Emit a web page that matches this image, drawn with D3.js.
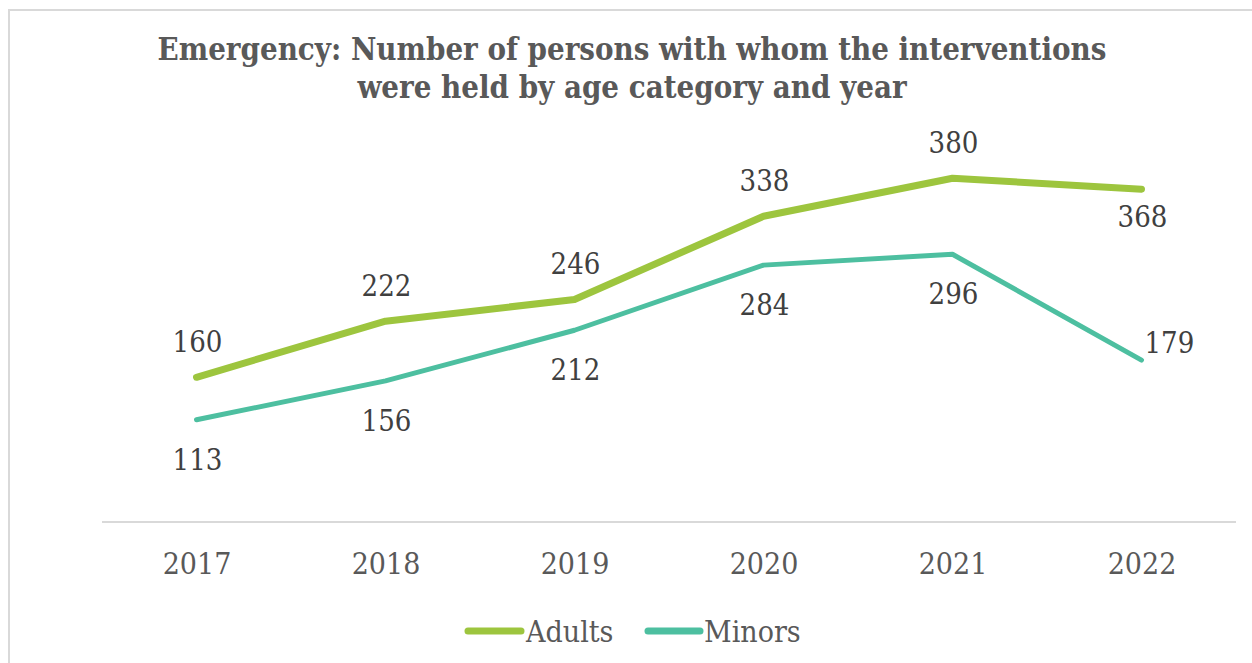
<!DOCTYPE html>
<html>
<head>
<meta charset="utf-8">
<script src="https://cdn.jsdelivr.net/npm/d3@7"></script>
<style>
  html, body { margin: 0; padding: 0; background: #ffffff; }
  svg { display: block; }
</style>
</head>
<body>
<svg id="chart" width="1252" height="663"></svg>
<script>
const titleLines = ["Emergency: Number of persons with whom the interventions",
                    "were held by age category and year"];
const years = ["2017", "2018", "2019", "2020", "2021", "2022"];
const adults = [160, 222, 246, 338, 380, 368];
const minors = [113, 156, 212, 284, 296, 179];
const seriesNames = ["Adults", "Minors"];
const seriesColors = ["#9dc53e", "#4dbfa0"];
// label placement per point: "above", "below", "right"
const adultsLabelPos = ["above", "above", "above", "above", "above", "below"];
const minorsLabelPos = ["below", "below", "below", "below", "below", "right"];

const FONT = "'DejaVu Serif Condensed', 'DejaVu Serif', serif";
const svg = d3.select("#chart");
const W = 1252, H = 663;

// chart area border
svg.append("path")
  .attr("d", `M9,${H + 5} L9,10 L${W + 5},10`)
  .attr("fill", "none").attr("stroke", "#d9d9d9").attr("stroke-width", 2);

// title
const title = svg.append("text")
  .attr("text-anchor", "middle")
  .attr("font-family", FONT).attr("font-weight", "bold")
  .attr("fill", "#595959").attr("font-size", 24);
title.selectAll("tspan").data(titleLines).join("tspan")
  .attr("x", 632).attr("y", (d, i) => 60 + i * 38).text(d => d);
// fit first line width to reference
const t0 = title.select("tspan").node().getComputedTextLength();
title.attr("font-size", 24 * 949 / t0);

const x = d3.scalePoint().domain(years).range([102, 1236]).padding(0.5);
const y = d3.scaleLinear().domain([0, 400]).range([522, 160.2]);

// x axis
const xAxis = svg.append("g").attr("transform", "translate(0,522)")
  .call(d3.axisBottom(x).tickSize(0).tickPadding(38));
xAxis.select(".domain").attr("stroke", "#d9d9d9").attr("stroke-width", 2)
  .attr("d", "M102,0H1236");
xAxis.selectAll("text").attr("font-family", FONT).attr("font-size", 30)
  .attr("fill", "#595959").attr("dy", 0).attr("y", 52);

const series = [
  { name: seriesNames[0], values: adults, color: seriesColors[0], width: 7, pos: adultsLabelPos, below: 38 },
  { name: seriesNames[1], values: minors, color: seriesColors[1], width: 5, pos: minorsLabelPos, below: 50 }
];

const line = d3.line().x((d, i) => x(years[i])).y(d => y(d));

series.forEach(s => {
  svg.append("path").datum(s.values)
    .attr("d", line).attr("fill", "none")
    .attr("stroke", s.color).attr("stroke-width", s.width)
    .attr("stroke-linecap", "round").attr("stroke-linejoin", "round");
});

series.forEach(s => {
  svg.append("g").selectAll("text").data(s.values).join("text")
    .attr("font-family", FONT).attr("font-size", 29).attr("fill", "#404040")
    .attr("text-anchor", (d, i) => s.pos[i] === "right" ? "start" : "middle")
    .attr("x", (d, i) => x(years[i]) + (s.pos[i] === "right" ? 3 : 1))
    .attr("y", (d, i) => y(d) + (s.pos[i] === "above" ? -25 : s.pos[i] === "below" ? s.below : -7))
    .text(d => d);
});

// legend
const legendItems = [
  { name: seriesNames[0], color: seriesColors[0], x1: 468, x2: 521, tx: 526 },
  { name: seriesNames[1], color: seriesColors[1], x1: 648, x2: 700, tx: 704 }
];
const lg = svg.append("g");
legendItems.forEach(l => {
  lg.append("line").attr("x1", l.x1).attr("x2", l.x2).attr("y1", 631).attr("y2", 631)
    .attr("stroke", l.color).attr("stroke-width", 7).attr("stroke-linecap", "round");
  lg.append("text").attr("x", l.tx).attr("y", 642)
    .attr("font-family", FONT).attr("font-size", 30).attr("fill", "#595959")
    .text(l.name);
});
</script>
</body>
</html>
